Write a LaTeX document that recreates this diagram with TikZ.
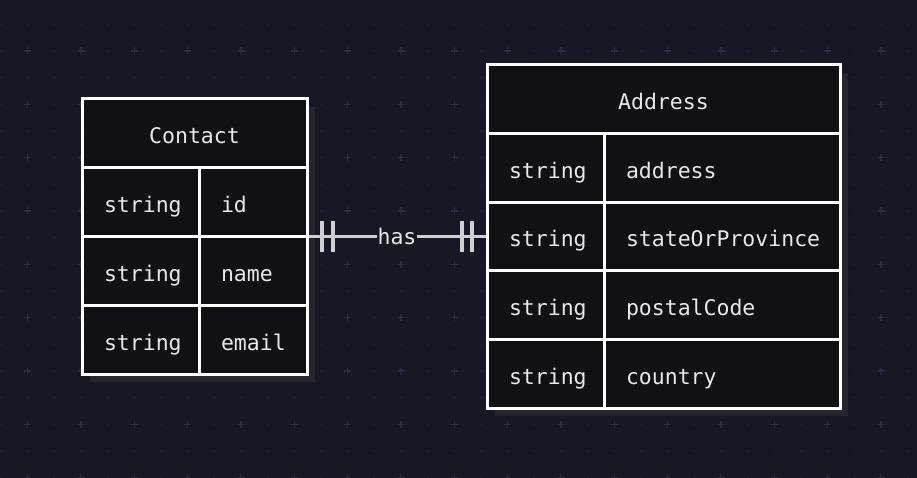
\documentclass[tikz,border=0pt]{standalone}
\usepackage{fontspec}
\setmonofont{DejaVu Sans Mono}
\definecolor{bgc}{HTML}{181724}
\definecolor{dotc}{HTML}{23223A}
\definecolor{plusc}{HTML}{2A2942}
\definecolor{cellc}{HTML}{111113}
\definecolor{shadc}{HTML}{25242F}
\definecolor{linec}{HTML}{D0D0D0}
\definecolor{txtc}{HTML}{E8E8E8}
\tikzset{
  cell/.style={draw=white, line width=3pt, fill=cellc, text=txtc, rectangle,
    inner xsep=22pt, inner ysep=0pt, align=left, text height=21pt, text depth=0pt,
    font=\ttfamily\fontsize{21.5}{26}\selectfont},
  headcell/.style={cell, align=center},
  shadowbox/.style={fill=shadc, draw=none},
  relline/.style={draw=linec, line width=3pt},
  onebar/.style={draw=linec, line width=3.5pt},
  rellabel/.style={fill=bgc, text=txtc, inner xsep=1pt, inner ysep=2pt,
    font=\ttfamily\fontsize{21.5}{26}\selectfont}
}
\newcommand{\mycell}[7]{% style, name, cx, cy, w, h, text
  \pgfmathsetmacro{\tw}{#5-44}
  \node[#1, minimum width=#5pt, minimum height=#6pt, text width=\tw pt] (#2) at (#3,#4) {#7};}
\begin{document}
\begin{tikzpicture}[x=1pt,y=-1pt]
\fill[bgc] (0,0) rectangle (917,478);
\useasboundingbox (0,0) rectangle (917,478);
% background grid
\foreach \i in {0,...,34}{
  \foreach \j in {0,...,17}{
    \pgfmathsetmacro{\gx}{1+26.667*\i}
    \pgfmathsetmacro{\gy}{24.33+26.667*\j}
    \pgfmathtruncatemacro{\isplus}{(mod(\i,2)==1) && (mod(\j,2)==1)}
    \ifnum\isplus=1
      \draw[plusc, line width=1.3pt] (\gx-3.5,\gy) -- (\gx+3.5,\gy) (\gx,\gy-3.5) -- (\gx,\gy+3.5);
    \else
      \fill[dotc] (\gx,\gy) circle (1.1pt);
    \fi
  }
}
% shadows
\fill[shadowbox] (90,107) rectangle (315,382);
\fill[shadowbox] (495,73) rectangle (848,416);
% table nodes (whole extents)
\node[minimum width=225pt, minimum height=275pt, inner sep=0pt, outer sep=0pt] (contact) at (194.5,236.5) {};
\node[minimum width=353pt, minimum height=343pt, inner sep=0pt, outer sep=0pt] (address) at (663.5,236.5) {};
% relationship connector
\draw[relline] (contact.east) -- node[rellabel] (haslbl) {has} (address.west);
\coordinate (lb1) at ([xshift=15pt]contact.east);
\coordinate (lb2) at ([xshift=26pt]contact.east);
\coordinate (rb1) at ([xshift=-25pt]address.west);
\coordinate (rb2) at ([xshift=-15pt]address.west);
\foreach \b in {lb1,lb2,rb1,rb2}{
  \draw[onebar] ([yshift=-15.5pt]\b) -- ([yshift=15.5pt]\b);
}
% Contact entity
\mycell{headcell}{ch}{194.5}{133.375}{225}{68.75}{Contact}
\mycell{cell}{c1t}{140.5}{202.125}{117}{68.75}{string}
\mycell{cell}{c1n}{253}{202.125}{108}{68.75}{id}
\mycell{cell}{c2t}{140.5}{270.875}{117}{68.75}{string}
\mycell{cell}{c2n}{253}{270.875}{108}{68.75}{name}
\mycell{cell}{c3t}{140.5}{339.625}{117}{68.75}{string}
\mycell{cell}{c3n}{253}{339.625}{108}{68.75}{email}
% Address entity
\mycell{headcell}{ah}{663.5}{99.3}{353}{68.6}{Address}
\mycell{cell}{a1t}{545.5}{167.9}{117}{68.6}{string}
\mycell{cell}{a1n}{722}{167.9}{236}{68.6}{address}
\mycell{cell}{a2t}{545.5}{236.5}{117}{68.6}{string}
\mycell{cell}{a2n}{722}{236.5}{236}{68.6}{stateOrProvince}
\mycell{cell}{a3t}{545.5}{305.1}{117}{68.6}{string}
\mycell{cell}{a3n}{722}{305.1}{236}{68.6}{postalCode}
\mycell{cell}{a4t}{545.5}{373.7}{117}{68.6}{string}
\mycell{cell}{a4n}{722}{373.7}{236}{68.6}{country}
\end{tikzpicture}
\end{document}
